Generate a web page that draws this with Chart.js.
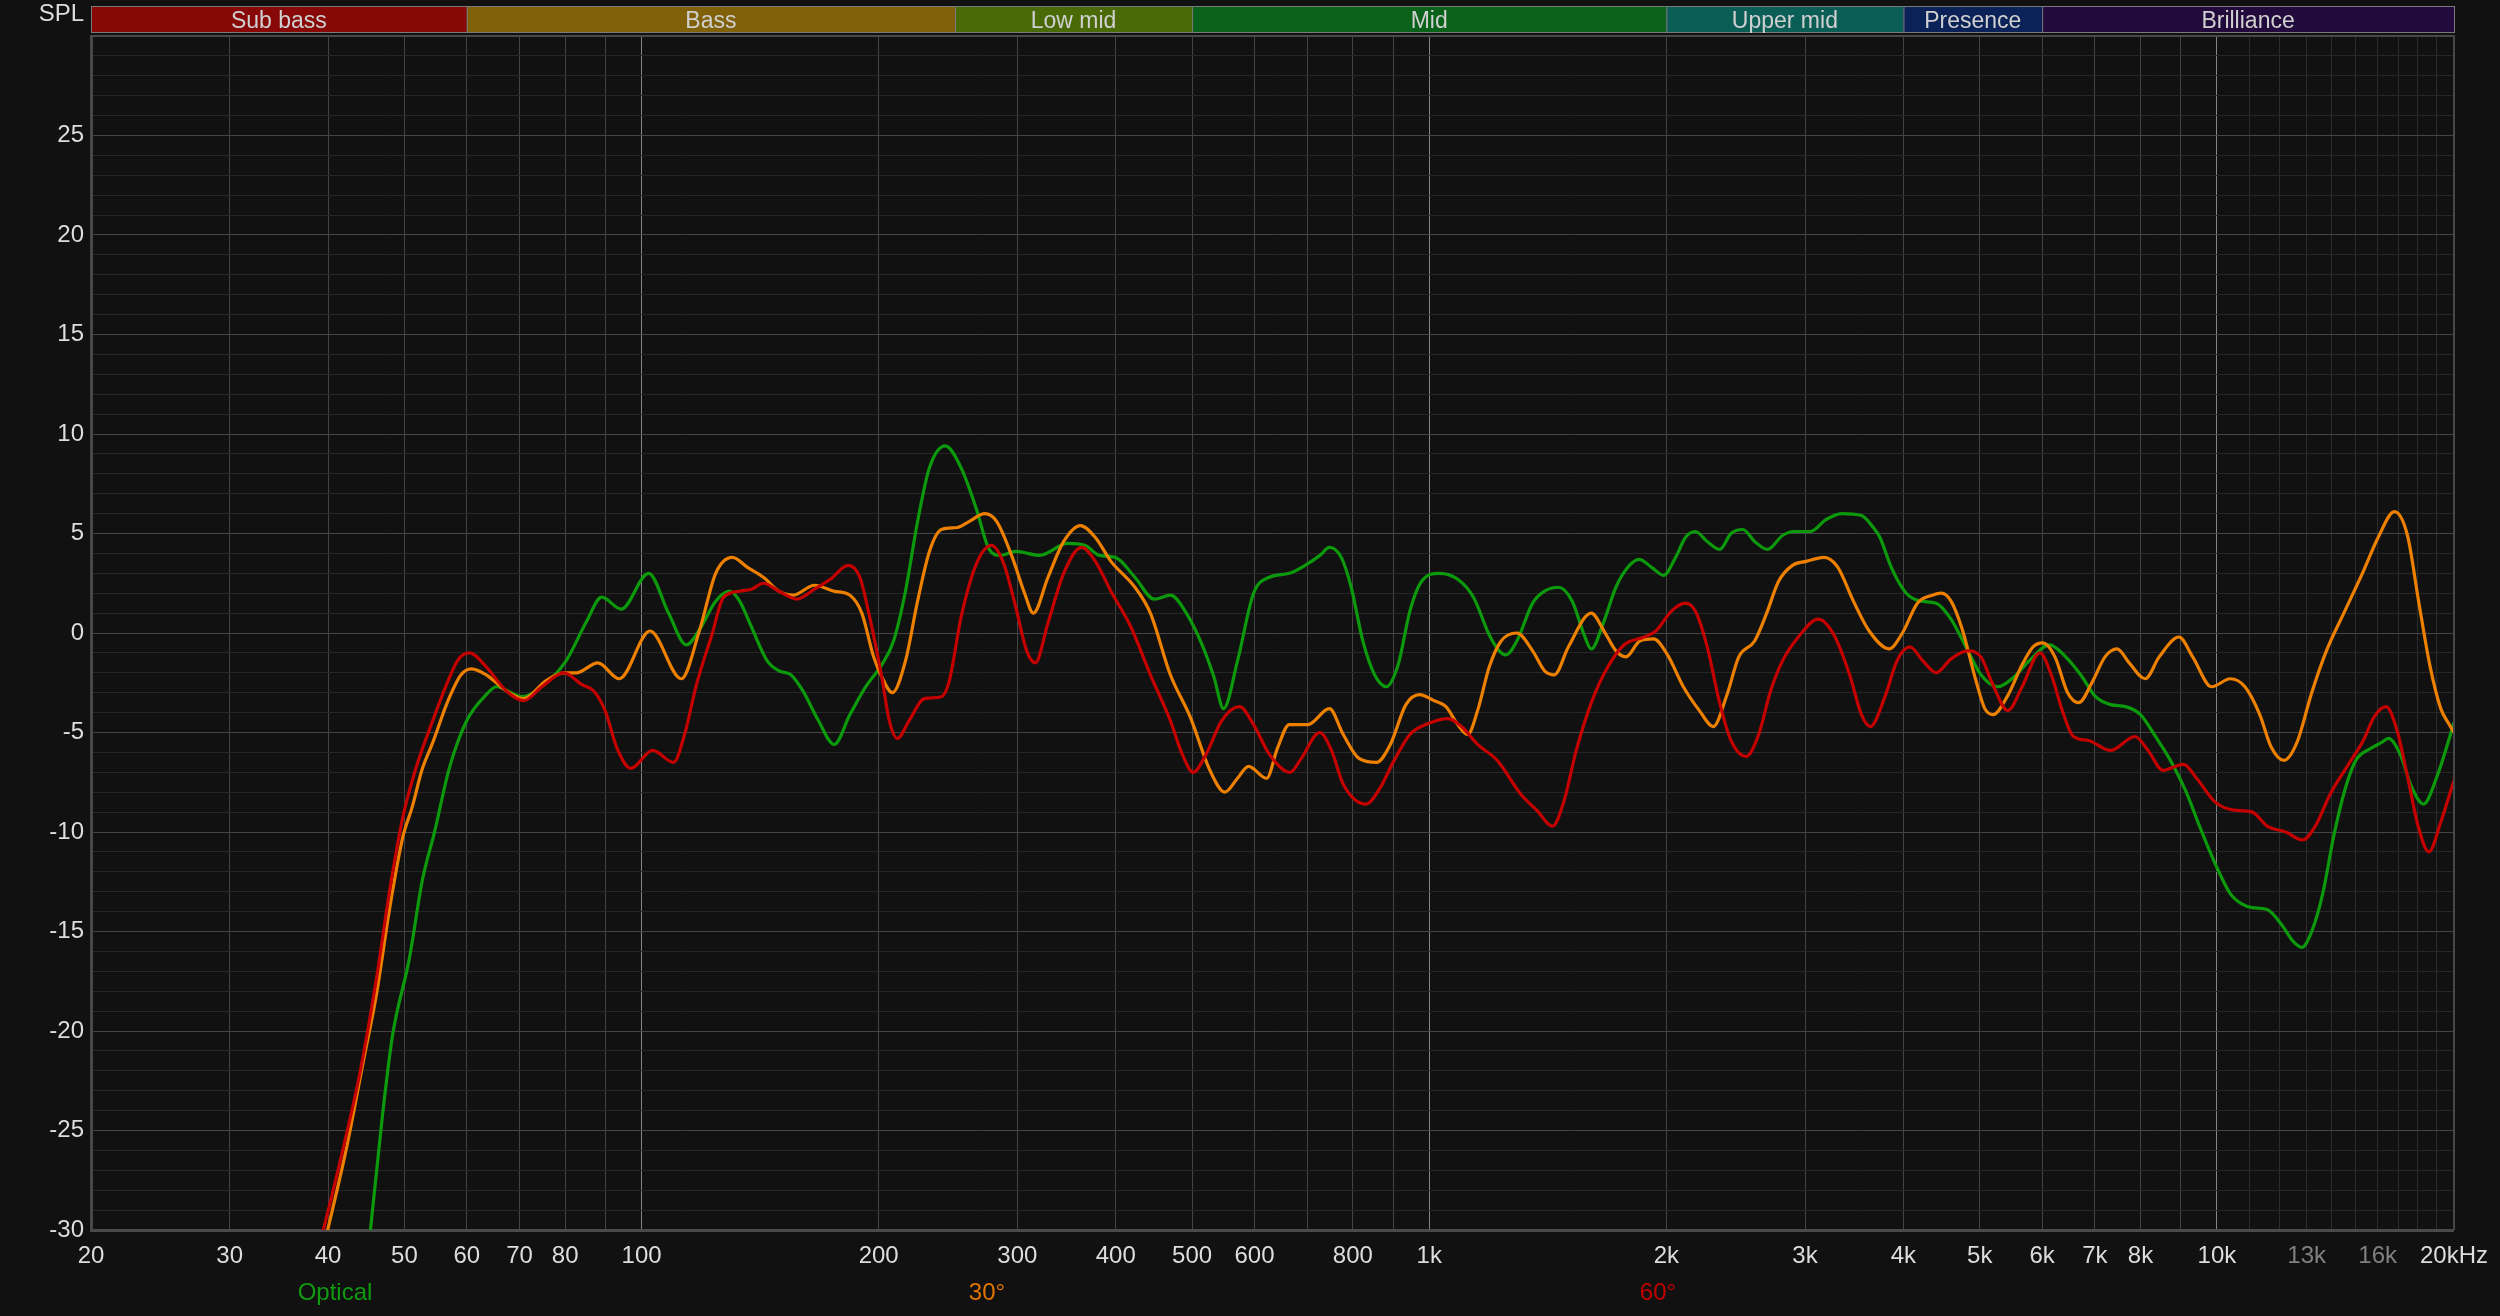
<!DOCTYPE html>
<html>
<head>
<meta charset="utf-8">
<script src="https://cdn.jsdelivr.net/npm/chart.js@4.4.1/dist/chart.umd.min.js"></script>
<style>
  html, body { margin: 0; padding: 0; background: #111111; }
  #wrap { width: 2500px; height: 1316px; }
</style>
</head>
<body>
<div id="wrap"><canvas id="spl"></canvas></div>
<script>
var opticalHz = [44, 45.3, 46.9, 48.3, 50.7, 52.7, 54.6, 57, 60, 63.5, 65.4, 70.5, 74.7, 80.2, 85.2, 89, 94.2, 102.1, 108.2, 114,
  118.6, 124.2, 129.4, 133.2, 137.9, 144.4, 149.4, 154.7, 160.2, 167.7, 175.6, 183.9, 192.6, 201.8, 208.9, 216.3, 224.1, 232, 243, 254.5,
  266.3, 275.5, 285, 298.6, 320.2, 347.5, 366, 381.2, 399.5, 423, 447.7, 469.2, 491.6, 514.9, 532.8, 548.2, 571, 598.4, 626.8, 664.3,
  695.7, 726.6, 746.9, 773.3, 796.1, 823.6, 852.4, 882.2, 913.1, 945.1, 978.2, 1031, 1087, 1138, 1192, 1227, 1251, 1292, 1353, 1401,
  1459, 1519, 1573, 1606, 1667, 1726, 1787, 1847, 1916, 1984, 2055, 2115, 2177, 2254, 2339, 2416, 2501, 2589, 2689, 2809,
  2908, 3046, 3190, 3340, 3538, 3663, 3735, 3860, 4033, 4212, 4401, 4597, 4802, 5017, 5267, 5530, 5777, 6129, 6428, 6715,
  7015, 7330, 7656, 7999, 8357, 8730, 9120, 9527, 9953, 10398, 10739, 11091, 11586, 12104, 12500, 12813, 13195, 13627, 14073, 14534,
  15011, 15681, 16194, 16509, 17092, 17653, 18293, 19035, 19657, 20000];
var opticalDb = [-35, -29.9, -24.2, -20.2, -16.4, -12.4, -10, -6.8, -4.4, -3.1, -2.7, -3.2, -2.7, -1.4, 0.6, 1.8, 1.2, 3, 1, -0.6,
  0.2, 1.6, 2.1, 1.6, 0.3, -1.4, -1.9, -2.1, -2.9, -4.4, -5.6, -4.1, -2.7, -1.6, -0.4, 2.1, 5.6, 8.3, 9.4, 8.3,
  6.2, 4.3, 3.9, 4.1, 3.9, 4.5, 4.4, 3.9, 3.8, 2.8, 1.7, 1.9, 1, -0.6, -2.2, -3.8, -1.4, 2, 2.8, 3,
  3.4, 3.9, 4.3, 3.8, 2.3, -0.4, -2.1, -2.7, -1.6, 1.1, 2.6, 3, 2.7, 1.8, -0.1, -0.9, -1.1, -0.4, 1.5, 2.1,
  2.3, 1.6, -0.1, -0.8, 0.6, 2.3, 3.3, 3.7, 3.3, 2.9, 3.8, 4.8, 5.1, 4.6, 4.2, 5, 5.2, 4.6, 4.2, 4.9,
  5.1, 5.1, 5.7, 6, 5.9, 5.3, 4.8, 3.3, 2, 1.6, 1.5, 0.7, -0.7, -2.1, -2.7, -2.2, -1.4, -0.6, -1.2, -2.1,
  -3.2, -3.6, -3.7, -4.1, -5.2, -6.4, -7.9, -9.8, -11.6, -13.1, -13.6, -13.8, -13.9, -14.7, -15.5, -15.8, -15, -13.1, -10.2, -7.9,
  -6.4, -5.8, -5.5, -5.3, -6.1, -7.7, -8.6, -7.2, -5.5, -4.5];

var deg30Hz = [37.5, 40, 42.2, 44.3, 46.1, 47.9, 49.8, 51.1, 52.7, 54.2, 56.8, 59, 60.8, 63.5, 67.3, 70.9, 75.6, 79.7, 82.6, 88,
  93.7, 102.5, 112.3, 118.6, 124.2, 130.4, 136.3, 142.8, 149.4, 155.6, 165.8, 175.6, 183.9, 190.4, 197.1, 201.8, 208.2, 216.3, 224.1, 232,
  240.3, 251.6, 260.4, 272.8, 282.5, 295.6, 306.4, 314.3, 328.1, 343.5, 360.8, 376.8, 394.4, 423, 442.6, 469.2, 497.1, 526.7, 550.3, 571,
  589.6, 621.8, 641.6, 664.3, 701.4, 746.9, 777.8, 814.3, 857.3, 892.5, 934.2, 972.5, 1014, 1050, 1087, 1119, 1152, 1192, 1234, 1292,
  1353, 1401, 1442, 1502, 1606, 1667, 1726, 1777, 1851, 1927, 2007, 2102, 2203, 2294, 2388, 2472, 2589, 2682, 2777, 2892,
  3010, 3171, 3302, 3456, 3619, 3837, 3988, 4167, 4352, 4470, 4597, 4749, 4937, 5074, 5200, 5417, 5659, 5843, 6014, 6229,
  6464, 6679, 6940, 7211, 7469, 7739, 8111, 8448, 8951, 9317, 9849, 10398, 10855, 11336, 11710, 12168, 12638, 13195, 13774, 14534,
  15343, 16023, 16808, 17458, 18035, 18632, 19243, 19657, 20000];
var deg30Db = [-34.5, -29.9, -25.9, -21.6, -18.1, -13.8, -10.2, -8.8, -6.8, -5.6, -3.4, -2.1, -1.8, -2.1, -2.9, -3.3, -2.4, -2, -2, -1.5,
  -2.3, 0.1, -2.3, 0.2, 3, 3.8, 3.3, 2.8, 2.1, 1.9, 2.4, 2.1, 1.9, 1, -1.2, -2.2, -3, -1.4, 1.6, 4.1,
  5.2, 5.3, 5.6, 6, 5.6, 3.8, 2, 1, 2.8, 4.6, 5.4, 4.8, 3.6, 2.3, 1, -2.1, -4.2, -6.9, -8, -7.3,
  -6.7, -7.3, -5.8, -4.6, -4.6, -3.8, -5.1, -6.3, -6.5, -5.6, -3.6, -3.1, -3.4, -3.7, -4.6, -5.1, -3.9, -1.7, -0.4, 0,
  -0.9, -1.9, -2.1, -0.7, 1, 0.1, -0.9, -1.2, -0.4, -0.3, -1.1, -2.7, -3.9, -4.7, -3.1, -1.2, -0.4, 1, 2.6, 3.4,
  3.6, 3.8, 3.3, 1.6, 0.1, -0.8, 0, 1.5, 1.9, 2, 1.6, 0.2, -2.3, -3.8, -4.1, -3.2, -1.6, -0.7, -0.5, -1.2,
  -3, -3.5, -2.5, -1.2, -0.8, -1.5, -2.3, -1.2, -0.2, -1.2, -2.7, -2.3, -2.7, -4.1, -5.7, -6.4, -5.5, -3, -0.9, 1.1,
  3.1, 4.8, 6.1, 4.9, 1.6, -1.6, -3.8, -4.5, -5];

var deg60Hz = [37, 39.5, 41.4, 43.9, 46.1, 47.9, 49.8, 51.7, 54.2, 56.8, 58.6, 60.5, 63.5, 67.3, 70.9, 74.7, 79.7, 84, 86.9, 89.9,
  93.1, 96.9, 103.3, 109.8, 113.4, 117.4, 122.8, 127.1, 133.2, 137.9, 142.8, 149.4, 157.4, 165.8, 173.6, 183, 189.3, 194.8, 201.8, 206.3,
  211.3, 218.6, 228.6, 240.3, 245.9, 254.5, 266.3, 278.1, 288.2, 298.6, 308.3, 316.1, 328.1, 343.5, 362, 376.8, 394.4, 418.1, 442.6, 469.2,
  485.9, 501.5, 520.8, 545.3, 574.3, 598.4, 626.8, 665.8, 688, 725.9, 751.5, 777.8, 831.6, 862.9, 902.6, 945.1, 990, 1057, 1099, 1152,
  1220, 1307, 1369, 1434, 1484, 1537, 1610, 1686, 1767, 1873, 1940, 2030, 2115, 2177, 2254, 2334, 2416, 2525, 2620, 2713,
  2809, 2942, 3117, 3265, 3418, 3538, 3631, 3790, 3925, 4076, 4234, 4401, 4597, 4827, 5017, 5183, 5428, 5659, 5960, 6162,
  6365, 6575, 6869, 7330, 7870, 8177, 8542, 9070, 9425, 9953, 10508, 11091, 11586, 12233, 12842, 13338, 13924, 14692, 15343, 15843,
  16401, 16908, 17458, 18035, 18582, 19243, 20000];
var deg60Db = [-34.2, -29.9, -26.6, -22.1, -17.3, -12.9, -9.2, -6.8, -4.5, -2.4, -1.3, -1, -1.7, -2.9, -3.4, -2.7, -2, -2.6, -2.9, -3.9,
  -5.8, -6.8, -5.9, -6.5, -5.1, -2.6, -0.1, 1.8, 2.1, 2.2, 2.5, 2.1, 1.7, 2.2, 2.7, 3.4, 2.8, 0.8, -2.2, -4.4,
  -5.3, -4.4, -3.3, -3.2, -2.4, 0.8, 3.5, 4.4, 3.5, 1.3, -0.9, -1.5, 0.5, 3, 4.3, 3.6, 2.1, 0.3, -2.1, -4.4,
  -6.1, -7, -6.1, -4.4, -3.7, -4.6, -6.1, -7, -6.3, -5, -5.9, -7.6, -8.6, -7.9, -6.4, -5.1, -4.6, -4.3, -4.7, -5.6,
  -6.4, -8.1, -8.9, -9.7, -8.4, -5.9, -3.4, -1.7, -0.6, -0.2, 0.1, 1.1, 1.5, 1.1, -0.7, -3.4, -5.4, -6.2, -5.1, -2.9,
  -1.4, -0.2, 0.7, -0.1, -2.1, -4.1, -4.7, -3.2, -1.4, -0.7, -1.4, -2, -1.3, -0.9, -1.2, -2.5, -3.9, -2.7, -1, -2.1,
  -3.9, -5.2, -5.4, -5.9, -5.2, -5.9, -6.9, -6.6, -7.3, -8.5, -8.9, -9, -9.7, -10, -10.4, -9.7, -8.1, -6.6, -5.4, -4.2,
  -3.7, -4.8, -7.2, -9.8, -11, -9.5, -7.4];

var seriesNames = ['Optical', '30°', '60°'];

// frequency axis: every grid line, and the ones that carry a label
var xGridHz = [20, 30, 40, 50, 60, 70, 80, 90, 100, 200, 300, 400, 500, 600, 700, 800, 900,
  1000, 2000, 3000, 4000, 5000, 6000, 7000, 8000, 9000, 10000,
  11000, 12000, 13000, 14000, 15000, 16000, 17000, 18000, 19000, 20000];
var xLabelHz = [20, 30, 40, 50, 60, 70, 80, 100, 200, 300, 400, 500, 600, 800, 1000,
  2000, 3000, 4000, 5000, 6000, 7000, 8000, 10000, 13000, 16000, 20000];
var xLabelText = ['20', '30', '40', '50', '60', '70', '80', '100', '200', '300', '400', '500', '600', '800', '1k',
  '2k', '3k', '4k', '5k', '6k', '7k', '8k', '10k', '13k', '16k', '20kHz'];
var yLabelDb = [25, 20, 15, 10, 5, 0, -5, -10, -15, -20, -25, -30];

// frequency bands on top
var bandNames = ['Sub bass', 'Bass', 'Low mid', 'Mid', 'Upper mid', 'Presence', 'Brilliance'];
var bandEdgesHz = [20, 60, 250, 500, 2000, 4000, 6000, 20000];

var bandColors = ['#880808', '#806008', '#4a6a08', '#0a621a', '#0a5e56', '#0a2258', '#220a3c'];
var lineColors = ['#0c9a0c', '#ee8000', '#c40000'];
var FONT = "'Liberation Sans', Arial, sans-serif";

function toPoints(hz, db) {
  return hz.map(function (f, i) { return {x: f, y: db[i]}; });
}

var decoPlugin = {
  id: 'deco',
  afterDraw: function (chart) {
    var ctx = chart.ctx, xs = chart.scales.x, area = chart.chartArea;
    ctx.save();
    // band strip
    var top = 6, h = 26;
    ctx.font = '23px ' + FONT;
    ctx.textAlign = 'center';
    ctx.textBaseline = 'middle';
    for (var i = 0; i < bandNames.length; i++) {
      var x1 = xs.getPixelForValue(bandEdgesHz[i]);
      var x2 = xs.getPixelForValue(bandEdgesHz[i + 1]);
      ctx.fillStyle = bandColors[i];
      ctx.fillRect(x1, top, x2 - x1, h);
      ctx.strokeStyle = '#7a7a7a';
      ctx.lineWidth = 1;
      ctx.strokeRect(x1 + 0.5, top + 0.5, x2 - x1, h);
      ctx.fillStyle = '#d0d0d0';
      ctx.fillText(bandNames[i], (x1 + x2) / 2, top + h / 2 + 3);
    }
    // frame around the plot
    ctx.strokeStyle = '#484848';
    ctx.lineWidth = 2;
    ctx.beginPath();
    ctx.moveTo(area.left, area.top);
    ctx.lineTo(area.right, area.top);
    ctx.lineTo(area.right, area.bottom);
    ctx.stroke();
    // axis title
    ctx.font = '24px ' + FONT;
    ctx.fillStyle = '#dddddd';
    ctx.textAlign = 'right';
    ctx.fillText('SPL', 84, 14);
    // legend under the axis
    var legendX = [335, 987, 1658];
    var legendColors = ['#109a10', '#e07400', '#c00000'];
    ctx.textAlign = 'center';
    chart.data.datasets.forEach(function (ds, k) {
      ctx.fillStyle = legendColors[k];
      ctx.fillText(ds.label, legendX[k], 1293);
    });
    ctx.restore();
  }
};

new Chart(document.getElementById('spl'), {
  type: 'line',
  data: {
    datasets: [
      {label: seriesNames[0], data: toPoints(opticalHz, opticalDb), borderColor: lineColors[0], order: 3},
      {label: seriesNames[1], data: toPoints(deg30Hz, deg30Db), borderColor: lineColors[1], order: 2},
      {label: seriesNames[2], data: toPoints(deg60Hz, deg60Db), borderColor: lineColors[2], order: 1}
    ]
  },
  options: {
    responsive: true,
    maintainAspectRatio: false,
    animation: false,
    layout: {padding: {left: 0, right: 46, top: 36, bottom: 0}},
    elements: {
      point: {radius: 0},
      line: {borderWidth: 3.2, tension: 0.4, cubicInterpolationMode: 'monotone', fill: false}
    },
    plugins: {legend: {display: false}, tooltip: {enabled: false}},
    scales: {
      x: {
        type: 'logarithmic',
        min: 20,
        max: 20000,
        afterBuildTicks: function (scale) {
          scale.ticks = xGridHz.map(function (v) { return {value: v}; });
        },
        afterFit: function (scale) { scale.height = 86; },
        grid: {
          drawTicks: false,
          lineWidth: 1,
          color: function (c) {
            var v = c.tick ? c.tick.value : 0;
            if (v === 100 || v === 1000 || v === 10000) return '#858585';
            if (v > 10000 && v < 20000) return '#2c2c2c';
            return '#444444';
          }
        },
        border: {color: '#4a4a4a', width: 3},
        ticks: {
          autoSkip: false,
          maxRotation: 0,
          minRotation: 0,
          padding: 12,
          font: {family: FONT, size: 24},
          color: function (c) {
            var v = c.tick ? c.tick.value : 0;
            return (v === 13000 || v === 16000) ? '#808080' : '#dddddd';
          },
          callback: function (v) {
            var i = xLabelHz.indexOf(v);
            return i < 0 ? '' : xLabelText[i];
          }
        }
      },
      y: {
        type: 'linear',
        min: -30,
        max: 30,
        afterBuildTicks: function (scale) {
          var t = [];
          for (var v = -30; v <= 30; v++) t.push({value: v});
          scale.ticks = t;
        },
        afterFit: function (scale) { scale.width = 91; },
        grid: {
          drawTicks: false,
          lineWidth: 1,
          color: function (c) {
            var v = c.tick ? c.tick.value : 0;
            return v % 5 === 0 ? '#454545' : '#262626';
          }
        },
        border: {color: '#484848', width: 3},
        ticks: {
          autoSkip: false,
          padding: 7,
          font: {family: FONT, size: 24},
          color: '#dddddd',
          callback: function (v) {
            return yLabelDb.indexOf(v) < 0 ? '' : String(v);
          }
        }
      }
    }
  },
  plugins: [decoPlugin]
});
</script>
</body>
</html>
